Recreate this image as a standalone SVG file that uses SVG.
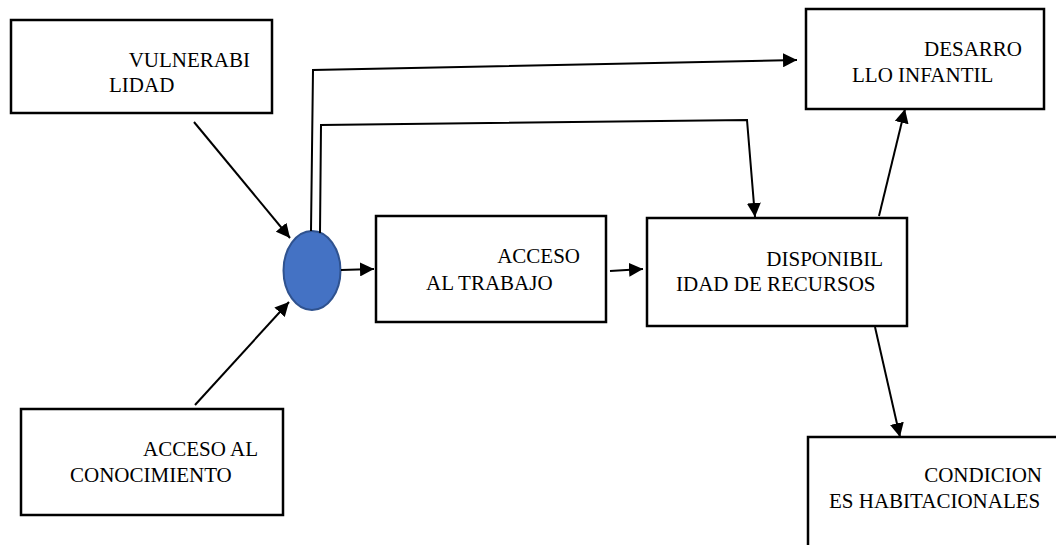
<svg xmlns="http://www.w3.org/2000/svg" width="1056" height="545" viewBox="0 0 1056 545">
<style>
.box{fill:#fff;stroke:#000;stroke-width:2.5}
text{font-family:'Liberation Serif','Times New Roman','DejaVu Serif',serif;font-size:21px;fill:#000}
.e{text-anchor:end}
.c{fill:none;stroke:#000;stroke-width:2}
</style>
<defs>
<marker id="ah" markerUnits="userSpaceOnUse" markerWidth="15" markerHeight="14" refX="14" refY="7" orient="auto">
<path d="M0,0 L14,7 L0,14 z" fill="#000"/>
</marker>
</defs>
<rect width="1056" height="545" fill="#fff"/>
<g id="vulnerabilidad">
<rect class="box" x="11" y="20" width="261" height="93"/>
<text class="e" x="250" y="67" font-family="Liberation Serif, serif">VULNERABI</text>
<text x="109" y="92" font-family="Liberation Serif, serif">LIDAD</text>
</g>
<g id="conocimiento">
<rect class="box" x="21" y="409" width="262" height="106"/>
<text class="e" x="258" y="456" font-family="Liberation Serif, serif">ACCESO AL</text>
<text x="70" y="482" font-family="Liberation Serif, serif">CONOCIMIENTO</text>
</g>
<g id="nodo">
<ellipse cx="312" cy="270.5" rx="28.5" ry="39.5" fill="#4472C4" stroke="#2F528F" stroke-width="2"/>
</g>
<g id="trabajo">
<rect class="box" x="376" y="216" width="230" height="106"/>
<text class="e" x="580" y="263" font-family="Liberation Serif, serif">ACCESO</text>
<text x="426" y="290" font-family="Liberation Serif, serif">AL TRABAJO</text>
</g>
<g id="recursos">
<rect class="box" x="647" y="218" width="260" height="108"/>
<text class="e" x="883" y="266" font-family="Liberation Serif, serif">DISPONIBIL</text>
<text x="676" y="291" font-family="Liberation Serif, serif">IDAD DE RECURSOS</text>
</g>
<g id="desarrollo">
<rect class="box" x="806" y="9" width="238" height="100"/>
<text class="e" x="1022" y="56" font-family="Liberation Serif, serif">DESARRO</text>
<text x="852" y="82" font-family="Liberation Serif, serif">LLO INFANTIL</text>
</g>
<g id="condiciones">
<rect class="box" x="808" y="437" width="262" height="130"/>
<text class="e" x="1042" y="482" font-family="Liberation Serif, serif">CONDICION</text>
<text x="829" y="508" font-family="Liberation Serif, serif">ES HABITACIONALES</text>
</g>
<g id="connectors">
<line class="c" x1="194" y1="122" x2="290" y2="238" marker-end="url(#ah)"/>
<line class="c" x1="195" y1="405" x2="289" y2="302" marker-end="url(#ah)"/>
<line class="c" x1="341" y1="270" x2="374" y2="269" marker-end="url(#ah)"/>
<line class="c" x1="610" y1="271" x2="643" y2="269" marker-end="url(#ah)"/>
<polyline class="c" points="311,231 313,70 797,60" marker-end="url(#ah)"/>
<polyline class="c" points="320,233 321,125 747,120 755,217" marker-end="url(#ah)"/>
<line class="c" x1="879" y1="216" x2="905" y2="109" marker-end="url(#ah)"/>
<line class="c" x1="875" y1="327" x2="900" y2="437" marker-end="url(#ah)"/>
</g>
</svg>
